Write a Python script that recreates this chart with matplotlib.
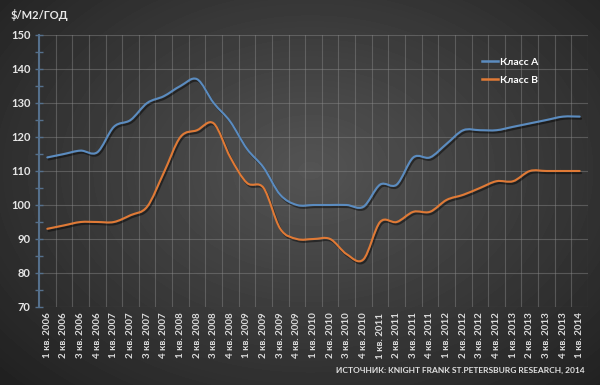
import numpy as np
import matplotlib.pyplot as plt
from matplotlib.path import Path
from matplotlib.patches import PathPatch
from matplotlib.lines import Line2D
import matplotlib.patheffects as pe

plt.rcParams['font.family'] = ['Lato', 'DejaVu Sans']

# quarters 1 кв. 2006 ... 1 кв. 2014
quarters = [f"{q} кв. {y}" for y in range(2006, 2014) for q in range(1, 5)] + ["1 кв. 2014"]

class_a = [114, 115, 116, 115.5, 123, 125, 130, 132, 135, 137, 130, 124.5,
           116.5, 111, 103, 100, 100, 100, 100, 99.5, 106, 106, 114, 114,
           118, 122, 122, 122, 123, 124, 125, 126, 126]
class_b = [93, 94, 95, 95, 95, 97, 99.5, 109.5, 120, 122, 124, 114,
           106.5, 105, 93, 90, 90, 90, 85.5, 84, 95, 95, 98, 98,
           101.5, 103, 105, 107, 107, 110, 110, 110, 110]

labels = ["Класс А", "Класс В"]
colors = ["#5b8cc0", "#e07a36"]


def smooth_path(xs, ys):
    # excel-like smoothed line, cubic bezier through every point
    pts = np.column_stack([xs, ys]).astype(float)
    n = len(pts)
    verts = [pts[0]]
    codes = [Path.MOVETO]
    for i in range(n - 1):
        p0 = pts[max(i - 1, 0)]
        p1 = pts[i]
        p2 = pts[i + 1]
        p3 = pts[min(i + 2, n - 1)]
        verts += [p1 + (p2 - p0) / 6, p2 - (p3 - p1) / 6, p2]
        codes += [Path.CURVE4] * 3
    return Path(verts, codes)


fig = plt.figure(figsize=(6, 3.85), dpi=100)

# dark radial background
bg = fig.add_axes([0, 0, 1, 1], zorder=-1)
yy, xx = np.mgrid[0:385, 0:600]
d = np.sqrt(((xx - 310) / 420) ** 2 + ((yy - 170) / 300) ** 2)
shade = np.clip(0.33 - 0.2 * d, 0.12, 0.33)
bg.imshow(shade, cmap='gray', vmin=0, vmax=1, aspect='auto', extent=[0, 1, 0, 1])
bg.axis('off')

ax = fig.add_axes([0.065, 0.2026, 0.915, 0.7065])
ax.set_facecolor('none')

x = np.arange(len(quarters))
for vals, c in zip([class_a, class_b], colors):
    patch = PathPatch(smooth_path(x, vals), facecolor='none', edgecolor=c, lw=1.5,
                      capstyle='round', zorder=3,
                      path_effects=[pe.SimpleLineShadow(offset=(1, -1.5), shadow_color='black', alpha=0.45),
                                    pe.Normal()])
    ax.add_patch(patch)

ax.set_xlim(-0.5, len(quarters) - 0.5)
ax.set_ylim(70, 150)
ax.set_yticks(np.arange(70, 151, 10))
ax.set_yticks(np.arange(75, 150, 10), minor=True)
ax.set_xticks(x)
ax.set_xticklabels(quarters, rotation=90, fontsize=7, color='#dcdcdc', fontweight='bold')
ax.set_xticks(np.arange(-0.5, len(quarters)), minor=True)

ax.grid(axis='y', which='major', color='#8a8a8a', alpha=0.45, lw=0.8)
ax.grid(axis='x', which='minor', color='#8a8a8a', alpha=0.45, lw=0.8)
ax.tick_params(axis='x', which='both', length=0, pad=4)
ax.tick_params(axis='y', which='both', direction='inout', length=6, width=1, color='#55708c',
               labelsize=8, labelcolor='#e6e6e6', pad=3)
for lab in ax.get_yticklabels():
    lab.set_fontweight('bold')

for s in ['top', 'right', 'bottom']:
    ax.spines[s].set_visible(False)
ax.spines['left'].set_color('#55708c')
ax.spines['left'].set_linewidth(1.5)

handles = [Line2D([], [], color=c, lw=1.8) for c in colors]
leg = fig.legend(handles, labels, loc='upper left', bbox_to_anchor=(0.787, 0.875),
                 frameon=False, fontsize=7.5, handlelength=1.6, handletextpad=0.15,
                 labelspacing=0.85)
for t in leg.get_texts():
    t.set_color('white')
    t.set_fontweight('bold')

fig.text(0.018, 0.96, "\\$/М2/ГОД", color='#e8e8e8', fontsize=8, fontweight='bold',
         va='center', ha='left')
fig.text(0.975, 0.038, "ИСТОЧНИК: KNIGHT FRANK ST.PETERSBURG RESEARCH, 2014",
         color='#e0e0e0', fontsize=6, fontweight='bold', ha='right', va='center')

fig.savefig('out.png', dpi=100)
